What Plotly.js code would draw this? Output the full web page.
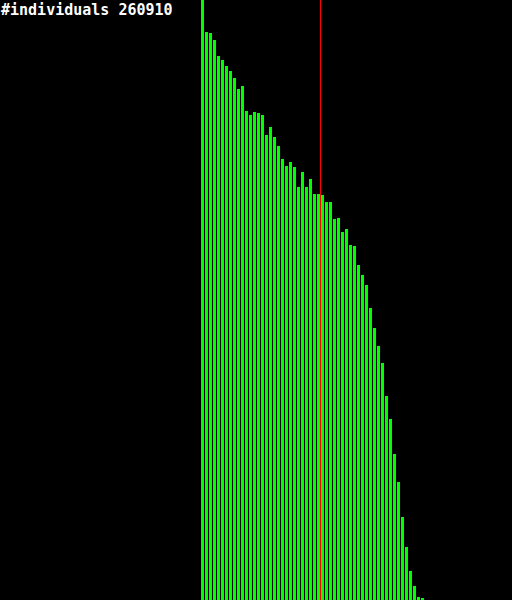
<!DOCTYPE html>
<html>
<head>
<meta charset="utf-8">
<script src="https://cdn.plot.ly/plotly-3.0.1.min.js"></script>
<style>
html,body{margin:0;padding:0;background:#000;}
#chart{width:512px;height:600px;}
</style>
</head>
<body>
<div id="chart"></div>
<script>
var categories = [0,1,2,3,4,5,6,7,8,9,10,11,12,13,14,15,16,17,18,19,20,21,22,23,24,25,26,27,28,29,30,31,32,33,34,35,36,37,38,39,40,41,42,43,44,45,46,47,48,49,50,51,52,53,54,55];
var counts = [600,568,567,560,544,540,534,529,522,511,514,489,485,488,487,485,465,473,463,454,441,434,438,433,413,428,413,421,406,406,405,398,398,381,382,368,371,355,354,335,325,315,292,272,254,237,204,181,146,118,83,53,29,14,3,2];
var threshold = 29.5;
var titleText = "#individuals 260910";

var data = [{
  type: 'bar',
  x: categories,
  y: counts,
  width: 0.75,
  marker: {color: '#00ff00', line: {width: 0}},
  hoverinfo: 'none'
}];

var layout = {
  width: 512,
  height: 600,
  margin: {l: 0, r: 0, t: 0, b: 0, pad: 0},
  paper_bgcolor: '#000000',
  plot_bgcolor: '#000000',
  showlegend: false,
  xaxis: {range: [-50.625, 77.375], visible: false, fixedrange: true},
  yaxis: {range: [0, 600], visible: false, fixedrange: true},
  shapes: [{
    type: 'line', xref: 'x', yref: 'paper',
    x0: threshold, x1: threshold, y0: 0, y1: 1,
    line: {color: '#ff0000', width: 1}
  }],
  annotations: [{
    text: titleText,
    xref: 'paper', yref: 'paper', x: 0, y: 1,
    xanchor: 'left', yanchor: 'top',
    showarrow: false,
    borderpad: 0,
    font: {family: 'DejaVu Sans Mono', size: 15, color: '#ffffff', weight: 'bold'}
  }]
};

Plotly.newPlot('chart', data, layout, {staticPlot: true, displayModeBar: false});
</script>
</body>
</html>
